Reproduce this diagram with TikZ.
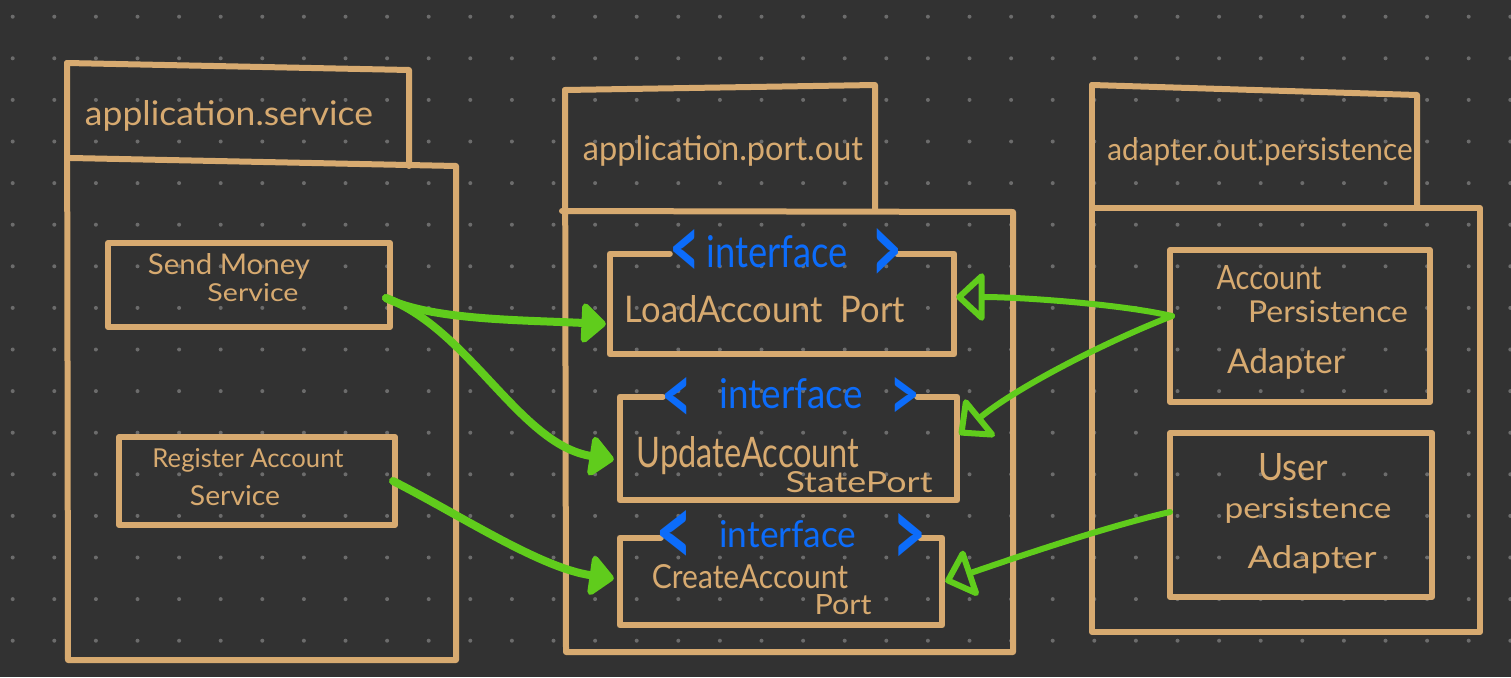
\documentclass[tikz,border=0pt]{standalone}
\usepackage{fontspec}
\setmainfont{Lato}
\usetikzlibrary{arrows.meta,calc}
\definecolor{bgc}{RGB}{50,50,50}
\definecolor{dotc}{RGB}{108,108,108}
\definecolor{tanc}{RGB}{215,170,112}
\definecolor{greenc}{RGB}{96,204,28}
\definecolor{bluec}{RGB}{12,108,250}
\newcommand{\fitw}[3]{\resizebox{#1pt}{#2pt}{#3}}
\begin{document}
\begin{tikzpicture}[x=1pt,y=-1pt,
  pkgline/.style={draw=tanc, line width=6pt, line join=round, line cap=round},
  box/.style={draw=tanc, line width=6pt, inner sep=0pt, rectangle, line join=round},
  hidbox/.style={draw=none, inner sep=0pt, rectangle},
  txt/.style={text=tanc, inner sep=0pt, anchor=base},
  itxt/.style={text=bluec, inner sep=0pt, anchor=base},
  chev/.style={text=bluec, inner sep=0pt, font=\bfseries},
  usearrow/.style={draw=greenc, line width=8pt, line cap=round, -{Triangle[length=26pt,width=46pt,round]}},
  implarrow/.style={draw=greenc, line width=6pt, line cap=round, -{Triangle[open,length=30pt,width=54pt,round]}}
]
\useasboundingbox (0,0) rectangle (1511,677);
\fill[bgc] (0,0) rectangle (1511,677);
\foreach \i in {0,...,36}{\foreach \j in {0,...,15}{\fill[dotc] (12.7+41.6*\i,16.7+41.6*\j) circle[radius=2pt];}}

% package application.service
\draw[pkgline] (67,63) -- (409,70) -- (409,166);
\draw[pkgline] (67,63) -- (68,660) -- (456,660) -- (456,166) -- (71,158);
\node[txt] (pkgA) at (229,125) {\fitw{288}{25}{application.service}};

% package application.port.out
\draw[pkgline] (565,90) -- (875,85) -- (875,211);
\draw[pkgline] (565,90) -- (566,652) -- (1013,652) -- (1013,212) -- (562,211);
\node[txt] (pkgB) at (723,160) {\fitw{280}{25}{application.port.out}};

% package adapter.out.persistence
\draw[pkgline] (1092,85) -- (1417,95) -- (1417,208);
\draw[pkgline] (1092,85) -- (1092,632) -- (1480,632) -- (1480,208) -- (1092,208);
\node[txt] (pkgC) at (1260,160) {\fitw{305}{23}{adapter.out.persistence}};

% application.service boxes
\node[box, minimum width=282, minimum height=84] (send) at (249,285) {};
\node[txt] (sendT1) at (229,274) {\fitw{162}{21}{Send Money}};
\node[txt] (sendT2) at (253,301) {\fitw{91}{18}{Service}};
\node[box, minimum width=276, minimum height=88] (reg) at (257,481) {};
\node[txt] (regT1) at (248,467) {\fitw{191}{19}{Register Account}};
\node[txt] (regT2) at (235,505) {\fitw{90}{20}{Service}};

% interface boxes
\node[hidbox, minimum width=344, minimum height=100] (load) at (782,304) {};
\draw[pkgline] ($(load.north west)+(60,0)$) -- (load.north west) -- (load.south west) -- (load.south east) -- (load.north east) -- ($(load.north east)+(-57,0)$);
\node[chev] (loadL) at (685,254) {\fitw{31}{49}{<}};
\node[itxt] (loadI) at (777,267) {\fitw{141}{32}{interface}};
\node[chev] (loadR) at (887,256) {\fitw{31}{56}{>}};
\node[txt] (loadT) at (765,322) {\fitw{280}{27}{LoadAccount\ \ Port}};

\node[hidbox, minimum width=337, minimum height=103] (upd) at (788.5,448.5) {};
\draw[pkgline] ($(upd.north west)+(43,0)$) -- (upd.north west) -- (upd.south west) -- (upd.south east) -- (upd.north east) -- ($(upd.north east)+(-40,0)$);
\node[chev] (updL) at (677,400) {\fitw{31}{46}{<}};
\node[itxt] (updI) at (791,408) {\fitw{143}{30}{interface}};
\node[chev] (updR) at (905,399) {\fitw{31}{43}{>}};
\node[txt] (updT1) at (748,467) {\fitw{223}{31}{UpdateAccount}};
\node[txt] (updT2) at (859,492) {\fitw{147}{21}{StatePort}};

\node[hidbox, minimum width=322, minimum height=87] (create) at (781,581.5) {};
\draw[pkgline] ($(create.north west)+(41,0)$) -- (create.north west) -- (create.south west) -- (create.south east) -- (create.north east) -- ($(create.north east)+(-22,0)$);
\node[chev] (createL) at (675,538) {\fitw{38}{56}{<}};
\node[itxt] (createI) at (788,547) {\fitw{137}{27}{interface}};
\node[chev] (createR) at (909,540) {\fitw{34}{53}{>}};
\node[txt] (createT1) at (750,588) {\fitw{196}{24}{CreateAccount}};
\node[txt] (createT2) at (843,614) {\fitw{57}{20}{Port}};

% adapter boxes
\node[box, minimum width=260, minimum height=152] (accp) at (1300,326) {};
\node[txt] (accpT1) at (1269,289) {\fitw{105}{24}{Account}};
\node[txt] (accpT2) at (1328,322) {\fitw{160}{22}{Persistence}};
\node[txt] (accpT3) at (1286,373) {\fitw{118}{25}{Adapter}};
\node[box, minimum width=262, minimum height=164] (userp) at (1301,515) {};
\node[txt] (userpT1) at (1293,480) {\fitw{70}{27}{User}};
\node[txt] (userpT2) at (1308,518) {\fitw{167}{21}{persistence}};
\node[txt] (userpT3) at (1312,568) {\fitw{129}{23}{Adapter}};

% uses arrows
\draw[usearrow] ($(send.east)+(-7,13)$) .. controls (430,320) and (520,320) .. ($(load.west)+(-4,20)$);
\draw[usearrow] ($(send.east)+(-7,13)$) .. controls (470,330) and (520,445) .. ($(upd.west)+(-6,11)$);
\draw[usearrow] ($(reg.east)+(-5,0)$) .. controls (460,515) and (540,568) .. ($(create.west)+(-6,-3)$);

% implements arrows
\draw[implarrow] ($(accp.west)+(5,-10)$) .. controls (1120,304) and (1020,297) .. ($(load.east)+(2,-7)$);
\draw[implarrow] ($(accp.west)+(5,-10)$) .. controls (1110,340) and (1020,385) .. ($(upd.east)+(2,-14)$);
\draw[implarrow] ($(userp.west)+(3,-3)$) .. controls (1100,528) and (1000,563) .. ($(create.east)+(3,0)$);
\end{tikzpicture}
\end{document}
